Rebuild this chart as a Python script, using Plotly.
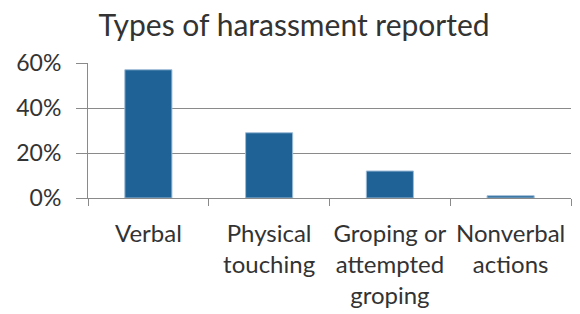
import plotly.graph_objects as go

categories = ["Verbal", "Physical<br>touching", "Groping or<br>attempted<br>groping", "Nonverbal<br>actions"]
values = [0.57, 0.29, 0.12, 0.01]
y_ticks = [0, 0.2, 0.4, 0.6]
y_tick_labels = ["0%", "20%", "40%", "60%"]
title_text = "Types of harassment reported"

FONT = "Lato, Open Sans, sans-serif"
TXT = "#333333"

fig = go.Figure(go.Bar(
    x=categories, y=values,
    marker=dict(color="#1f6396", line=dict(color="#9dbbd6", width=1)),
    width=0.39,
))

# page body has an 8px default margin, so the figure is sized to fit the window
fig.update_layout(
    width=572, height=306,
    margin=dict(l=80, r=9, t=55, b=116),
    paper_bgcolor="white", plot_bgcolor="white",
    showlegend=False,
    font=dict(family=FONT, color=TXT, size=20),
    title=dict(text=title_text, x=0.5, xref="container", xanchor="center",
               y=1 - 17 / 306, yref="container", yanchor="middle",
               font=dict(family=FONT, size=30, color=TXT)),
)
fig.update_xaxes(
    showline=True, linecolor="#8a8a8a", linewidth=1,
    ticks="outside", ticklen=7, tickcolor="#8a8a8a", tickson="boundaries",
    showgrid=False, tickfont=dict(size=24, color=TXT), tickangle=0,
    ticklabelstandoff=14, automargin=False,
)
fig.update_yaxes(
    range=[0, 0.6], tickvals=y_ticks, ticktext=y_tick_labels,
    showline=True, linecolor="#8a8a8a", linewidth=1,
    ticks="outside", ticklen=11, tickcolor="#8a8a8a",
    showgrid=True, gridcolor="#8a8a8a", gridwidth=1,
    zeroline=False, tickfont=dict(size=23, color=TXT),
    ticklabelstandoff=10, automargin=False,
)
fig.write_html("out.html")
